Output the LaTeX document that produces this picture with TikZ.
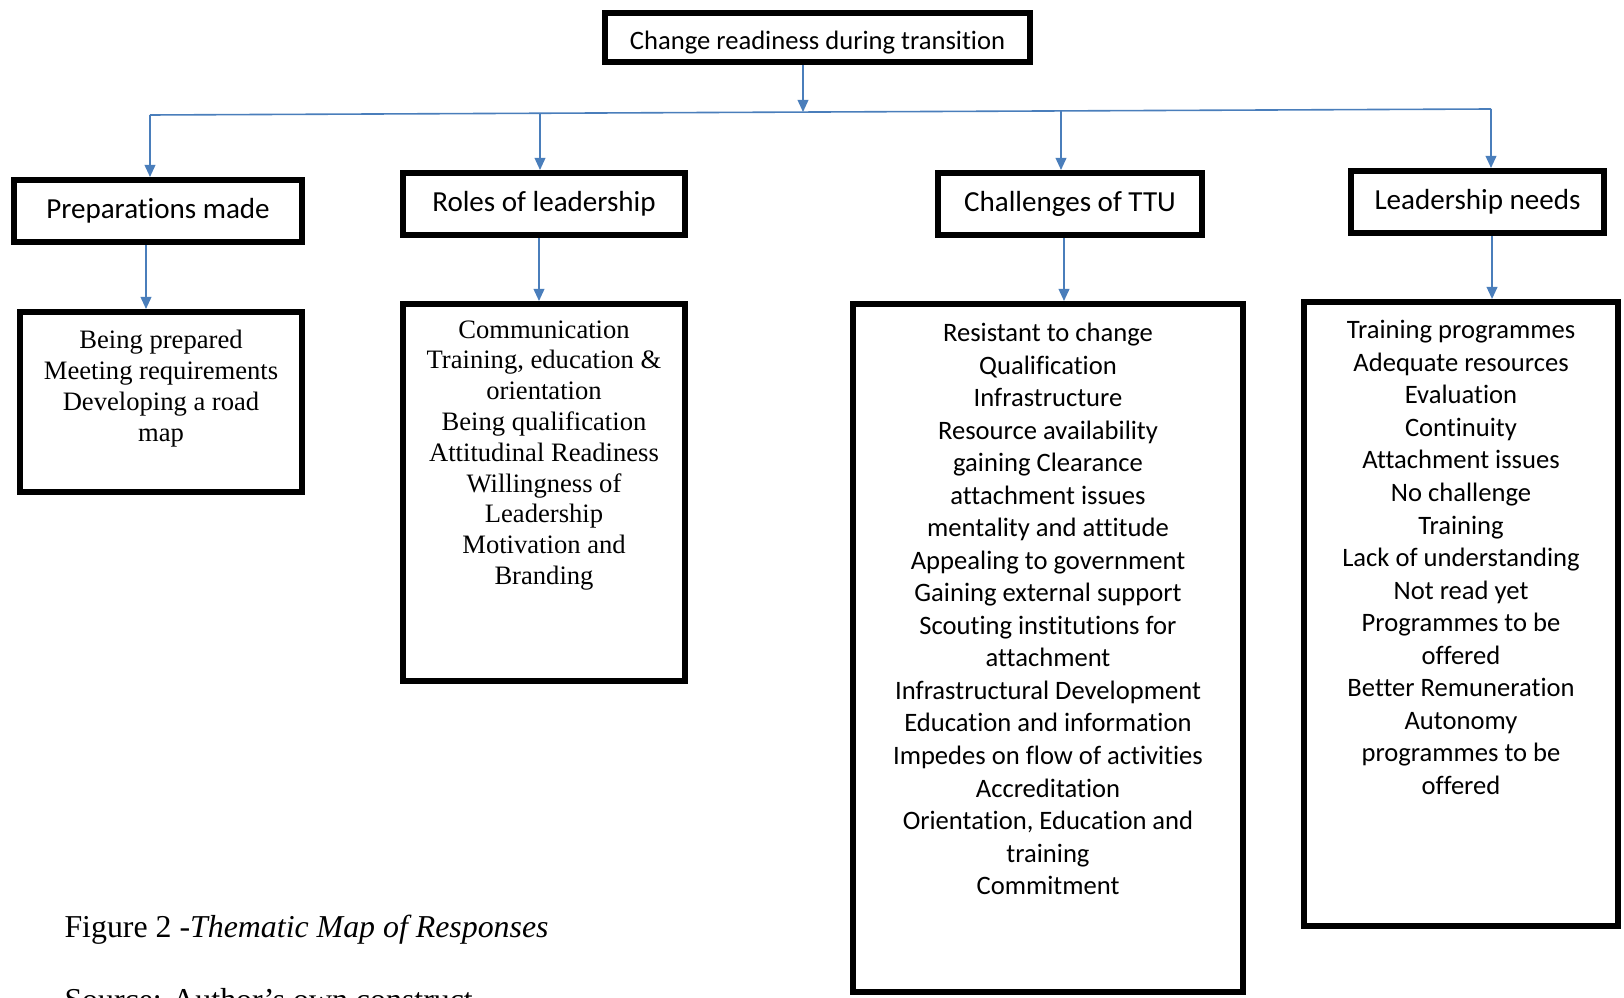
\documentclass[tikz,border=0pt]{standalone}
\usepackage{fontspec}
\setmainfont{Liberation Serif}
\newfontfamily\calibri[Ligatures={NoCommon}]{Carlito}
\usetikzlibrary{arrows.meta}

\definecolor{wordblue}{HTML}{4A7EBB}

\tikzset{every picture/.style={line width=0.75pt}}
\tikzset{
  headbox/.style={draw, line width=4.5pt, inner sep=0pt, minimum height=46.5pt, font=\calibri\fontsize{21.8}{26}\selectfont},
  listbox/.style={draw, line width=4.5pt, inner sep=0pt},
  listtext/.style={anchor=north, align=center, inner sep=0pt},
  sanslist/.style={listtext, font=\calibri\fontsize{19.95}{24.4}\selectfont},
  seriflist/.style={listtext, font=\fontsize{19.95}{23.1}\selectfont},
  arr/.style={wordblue, line width=1.2pt, -{Triangle[length=9pt,width=8pt]}},
  captext/.style={anchor=base west, inner sep=0pt, font=\fontsize{23.9}{28}\selectfont}
}

\begin{document}
\begin{tikzpicture}[x=0.75pt,y=0.75pt,yscale=-1]

\useasboundingbox (0,0) rectangle (1624,998);

\node [headbox, minimum width=318.75pt, minimum height=36.75pt, text height=18pt, text depth=0pt, font=\calibri\fontsize{19.95}{24}\selectfont] (top) at (817.5,37.5) {Change readiness during transition};

\node [headbox, minimum width=216pt] (prep) at (158,211) {Preparations made};
\node [headbox, minimum width=211.5pt] (roles) at (544,204) {Roles of leadership};
\node [headbox, minimum width=198pt] (chal) at (1070,204) {Challenges of TTU};
\node [headbox, minimum width=189.75pt] (lead) at (1477.5,202) {Leadership needs};

\node [listbox, minimum width=211.5pt, minimum height=135pt] (c1) at (161,402) {};
\node [listbox, minimum width=211.5pt, minimum height=282.75pt] (c2) at (544,492.5) {};
\node [listbox, minimum width=292.5pt, minimum height=516pt] (c3) at (1048,648) {};
\node [listbox, minimum width=235.5pt, minimum height=468pt] (c4) at (1461,614) {};

\node [seriflist] (t1) at ([yshift=15.75pt]c1.north) {Being prepared\\Meeting requirements\\Developing a road\\map};
\node [seriflist] (t2) at ([yshift=14.25pt]c2.north) {Communication\\Training, education \&\\orientation\\Being qualification\\Attitudinal Readiness\\Willingness of\\Leadership\\Motivation and\\Branding};
\node [sanslist] (t3) at ([yshift=16.2pt]c3.north) {Resistant to change\\Qualification\\Infrastructure\\Resource availability\\gaining Clearance\\attachment issues\\mentality and attitude\\Appealing to government\\Gaining external support\\Scouting institutions for\\attachment\\Infrastructural Development\\Education and information\\Impedes on flow of activities\\Accreditation\\Orientation, Education and\\training\\Commitment};
\node [sanslist] (t4) at ([yshift=15.75pt]c4.north) {Training programmes\\Adequate resources\\Evaluation\\Continuity\\Attachment issues\\No challenge\\Training\\Lack of understanding\\Not read yet\\Programmes to be\\offered\\Better Remuneration\\Autonomy\\programmes to be\\offered};

\coordinate (b0) at (803,112);
\coordinate (busl) at (150,115);
\coordinate (b2) at (540,113.3);
\coordinate (b3) at (1061,110.9);
\coordinate (busr) at (1491,109);

\draw [wordblue, line width=1.2pt] (busl) -- (busr);
\draw [arr] (b0 |- top.south) -- (b0);
\draw [arr] (busl) -- (busl |- prep.north);
\draw [arr] (b2) -- (b2 |- roles.north);
\draw [arr] (b3) -- (b3 |- chal.north);
\draw [arr] (busr) -- (busr |- lead.north);

\coordinate (a1) at ([xshift=-9pt]prep.south);
\coordinate (a2) at ([xshift=-3.75pt]roles.south);
\coordinate (a3) at ([xshift=-4.5pt]chal.south);
\coordinate (a4) at ([xshift=10.9pt]lead.south);
\draw [arr] (a1) -- (a1 |- c1.north);
\draw [arr] (a2) -- (a2 |- c2.north);
\draw [arr] (a3) -- (a3 |- c3.north);
\draw [arr] (a4) -- (a4 |- c4.north);

\node [captext] (cap) at (64,937) {Figure 2 -\textit{Thematic Map of Responses}};
\node [captext] (src) at (64,1010) {Source: Author’s own construct};

\end{tikzpicture}
\end{document}
